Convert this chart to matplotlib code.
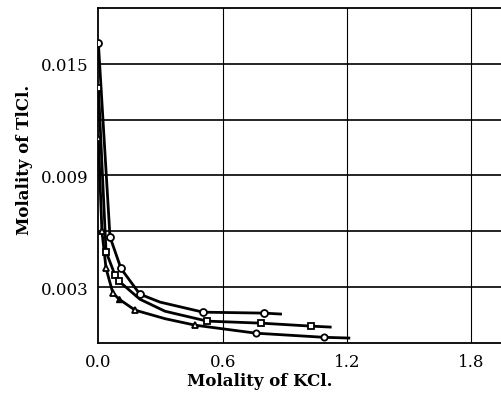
import matplotlib
matplotlib.use("Agg")
import matplotlib.pyplot as plt

# data (molality of KCl, molality of TlCl)
# measured points (markers)
top_x = [0.0, 0.056, 0.109, 0.20, 0.506, 0.80]
top_y = [0.0161, 0.0057, 0.0040, 0.00262, 0.00165, 0.00160]
mid_x = [0.0, 0.037, 0.08, 0.099, 0.525, 0.786, 1.028]
mid_y = [0.0137, 0.0049, 0.00365, 0.00332, 0.00117, 0.00106, 0.00090]
bot_x = [0.0, 0.017, 0.037, 0.07, 0.10, 0.177, 0.468, 0.762, 1.09]
bot_y = [0.0110, 0.0060, 0.0040, 0.00268, 0.00235, 0.00176, 0.00095, 0.00052, 0.00030]
bot_marks = ['^', '^', '^', '^', 'filled', '^', '^', 'o', 'o']

# drawn curves
top_line_x = [0.0, 0.056, 0.109, 0.20, 0.298, 0.506, 0.80, 0.88]
top_line_y = [0.0161, 0.0057, 0.0040, 0.00262, 0.00219, 0.00165, 0.00160, 0.00155]
mid_line_x = [0.0, 0.037, 0.08, 0.099, 0.20, 0.322, 0.525, 0.786, 1.028, 1.12]
mid_line_y = [0.0137, 0.0049, 0.00365, 0.00332, 0.00235, 0.00170, 0.00117, 0.00106, 0.00090, 0.00085]
bot_line_x = [0.0, 0.017, 0.037, 0.07, 0.10, 0.177, 0.322, 0.468, 0.762, 1.09, 1.21]
bot_line_y = [0.0110, 0.0060, 0.0040, 0.00268, 0.00235, 0.00176, 0.00130, 0.00095, 0.00052, 0.00030, 0.00026]

xticks = [0.0, 0.6, 1.2, 1.8]
xticklabels = ['0.0', '0.6', '1.2', '1.8']
ygrid = [0.003, 0.006, 0.009, 0.012, 0.015]
yticks = [0.003, 0.009, 0.015]
yticklabels = ['0.003', '0.009', '0.015']

plt.rcParams['font.family'] = 'DejaVu Serif'

fig = plt.figure(figsize=(5.02, 4.06), dpi=100)
ax = fig.add_axes([0.196, 0.153, 0.804, 0.825])

# grid
for g in ygrid:
    ax.axhline(g, color='black', lw=1.2, zorder=1)
for g in xticks[1:]:
    ax.axvline(g, color='black', lw=0.8, zorder=1)

# curves
ax.plot(top_line_x, top_line_y, color='black', lw=2, zorder=2)
ax.plot(mid_line_x, mid_line_y, color='black', lw=2, zorder=2)
ax.plot(bot_line_x, bot_line_y, color='black', lw=2, zorder=2)

# markers
ax.plot(top_x, top_y, 'o', ms=5, mfc='white', mec='black', mew=1.3, zorder=3)
ax.plot(mid_x, mid_y, 's', ms=4, mfc='white', mec='black', mew=1.3, zorder=3)
for x, y, m in zip(bot_x, bot_y, bot_marks):
    if m == 'filled':
        ax.plot(x, y, '^', ms=5, mfc='black', mec='black', zorder=3)
    else:
        ax.plot(x, y, m, ms=4.5, mfc='white', mec='black', mew=1.3, zorder=3)

ax.set_xlim(0, 1.95)
ax.set_ylim(0, 0.018)
ax.set_xticks(xticks)
ax.set_xticklabels(xticklabels, fontsize=12)
ax.set_yticks(yticks)
ax.set_yticklabels(yticklabels, fontsize=12)
ax.tick_params(length=0, pad=7)
ax.spines['right'].set_visible(False)
for s in ['left', 'bottom', 'top']:
    ax.spines[s].set_linewidth(1.3)

ax.set_xlabel('Molality of KCl.', fontsize=12, fontweight='bold')
ax.set_ylabel('Molality of TlCl.', fontsize=12, fontweight='bold')
ax.xaxis.set_label_coords(0.40, -0.086)
ax.yaxis.set_label_coords(-0.162, 0.55)

fig.savefig('out.png', dpi=100)
